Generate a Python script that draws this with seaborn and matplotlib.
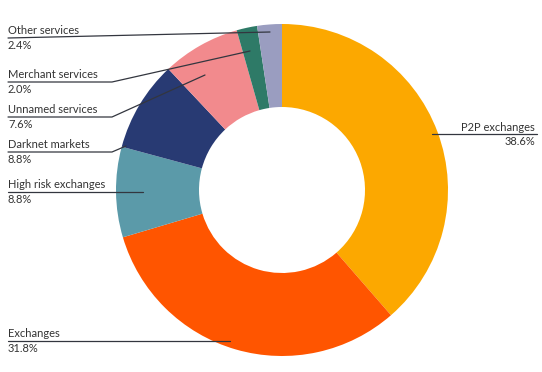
import matplotlib
matplotlib.use('Agg')
import matplotlib.pyplot as plt
import seaborn as sns

# segment shares, clockwise from the top
labels = ['P2P exchanges', 'Exchanges', 'High risk exchanges', 'Darknet markets',
          'Unnamed services', 'Merchant services', 'Other services']
shares = [38.6, 31.8, 8.8, 8.8, 7.6, 2.0, 2.4]
colors = ['#FCA800', '#FF5500', '#5B9AA9', '#283A73', '#F28A8D', '#2E7A67', '#9A9DC0']

sns.set_theme(style='white')
plt.rcParams['font.family'] = ['Lato', 'DejaVu Sans']

W, H = 542, 372
fig = plt.figure(figsize=(W / 100, H / 100), dpi=100)
ax = fig.add_axes([0, 0, 1, 1])
ax.set_xlim(0, W)
ax.set_ylim(0, H)
ax.set_aspect('equal')
ax.axis('off')

def py(y):
    # pixel row (from top) -> data y
    return H - y

cx, cy, r = 282, 190, 166
ax.pie(shares, colors=colors, startangle=90, counterclock=False,
       center=(cx, py(cy)), radius=r, wedgeprops=dict(width=r * 0.5, linewidth=0))
ax.set_xlim(0, W)
ax.set_ylim(0, H)

txt = '#333333'
lc = '#33363f'
fs = 8

# leader lines: list of (x, y) pixel points
leaders = {
    'Other services': [(8, 38), (270, 32)],
    'Merchant services': [(8, 82), (112, 82), (250, 51)],
    'Unnamed services': [(8, 117), (112, 117), (205, 75)],
    'Darknet markets': [(8, 152), (112, 152), (126, 146)],
    'High risk exchanges': [(8, 192), (143, 192)],
    'Exchanges': [(8, 341), (230, 341)],
}

for lab, pct in zip(labels, shares):
    if lab == 'P2P exchanges':
        ax.plot([432, 537], [py(134), py(134)], color=lc, lw=0.9)
        ax.text(535, py(133), lab, ha='right', va='bottom', fontsize=fs, color=txt)
        ax.text(535, py(136), f'{pct:.1f}%', ha='right', va='top', fontsize=fs, color=txt)
        continue
    pts = leaders[lab]
    ax.plot([p[0] for p in pts], [py(p[1]) for p in pts], color=lc, lw=0.9)
    y0 = pts[0][1]
    ax.text(8, py(y0 - 2), lab, ha='left', va='bottom', fontsize=fs, color=txt)
    ax.text(8, py(y0 + 2), f'{pct:.1f}%', ha='left', va='top', fontsize=fs, color=txt)

fig.savefig('out.png', dpi=100)
